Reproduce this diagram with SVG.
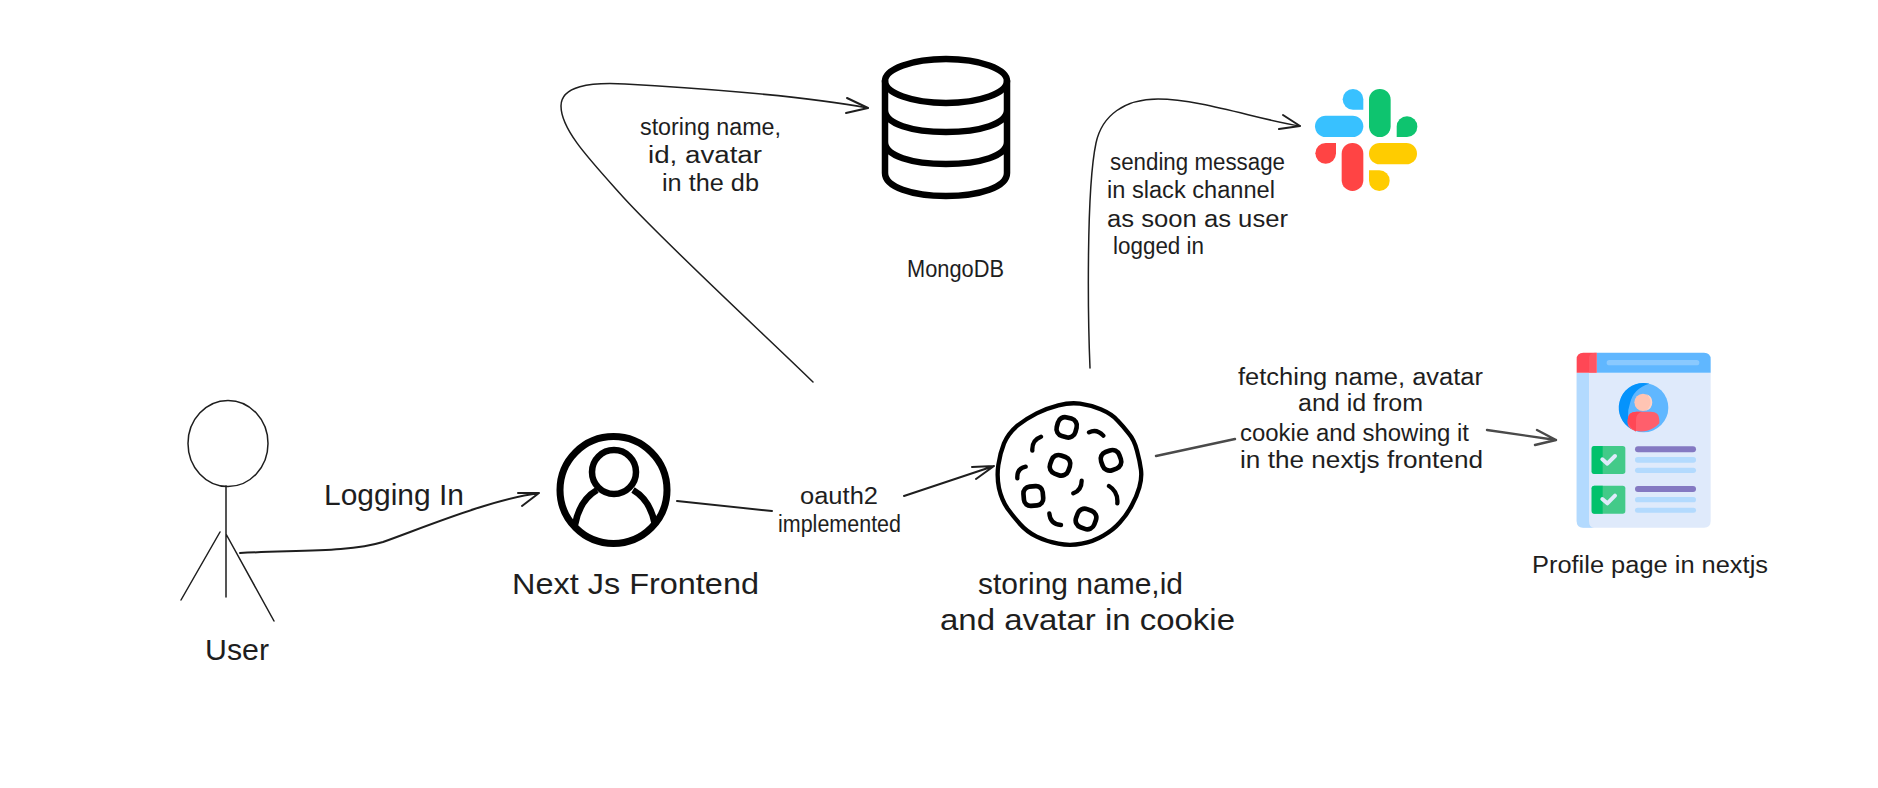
<svg xmlns="http://www.w3.org/2000/svg" width="1878" height="788" viewBox="0 0 1878 788">
<style>
text{font-family:"Liberation Sans Narrow","Liberation Sans",sans-serif;fill:#1e1e1e;font-size:23px}
.big{font-size:29px}
.thin{fill:none;stroke:#1e1e1e;stroke-width:1.5;stroke-linecap:round;stroke-linejoin:round}
.conn{fill:none;stroke:#1e1e1e;stroke-width:2;stroke-linecap:round;stroke-linejoin:round}
.gray{fill:none;stroke:#4a4a4a;stroke-width:2.4;stroke-linecap:round;stroke-linejoin:round}
.icon{fill:none;stroke:#000;stroke-linecap:round;stroke-linejoin:round}
</style>
<rect width="1878" height="788" fill="#fff"/>
<g id="connectors">
<path class="conn" d="M240,553 C300,550 350,552 383,542 C430,525 490,500 539,493 M518,493 L539,493 L522,506"/>
<path class="conn" d="M677,501 L772,511 M904,496 L994,466 M972,467 L994,466 L976,479"/>
<path class="thin" d="M813,382 C768,338 668,246 624,198 C590,160 561,130 561,106 C561,86 590,82 625,84 C680,87 800,95 868,108"/>
<path class="conn" d="M847,98 L868,108 L846,113"/>
<path class="thin" d="M1090,368 C1088,320 1086,190 1096,143 C1102,115 1125,99 1158,99 C1200,99 1260,120 1300,126"/>
<path class="conn" d="M1283,115 L1300,126 L1279,129"/>
<path class="gray" d="M1156,456 L1235,439 M1487,430 L1556,440 M1537,430 L1556,440 L1535,445"/>
</g>
<g id="user">
<ellipse class="thin" cx="228" cy="443.5" rx="40" ry="43"/>
<path class="thin" d="M226,486 V597 M220,532 L181,600 M226,534 L274,621"/>
<text class="big" x="205" y="660" textLength="64" lengthAdjust="spacingAndGlyphs">User</text>
</g>
<g id="logging-label"><text class="big" x="324" y="505" textLength="140" lengthAdjust="spacingAndGlyphs">Logging In</text></g>
<g id="frontend">
<circle class="icon" cx="613.5" cy="490" r="53.5" stroke-width="7"/>
<circle class="icon" cx="614" cy="472" r="22" stroke-width="6.5"/>
<path fill="none" stroke="#000" stroke-width="6.5" d="M575,525 C578,508 585,497 597,490 M633,490 C645,497 652,508 655,525"/>
<text class="big" x="512" y="594" textLength="247" lengthAdjust="spacingAndGlyphs">Next Js Frontend</text>
</g>
<g id="oauth-label">
<text x="800" y="504" textLength="78" lengthAdjust="spacingAndGlyphs">oauth2</text>
<text x="778" y="532" textLength="123" lengthAdjust="spacingAndGlyphs">implemented</text>
</g>
<g id="cookie">
<g transform="translate(980,390) scale(.33333)">
<path class="icon" stroke-width="13" d="M300,41 Q330,45 362,58 Q395,72 412,91 Q430,110 446,130 Q463,150 471,182 Q480,215 483,240 Q486,265 478,292 Q470,320 455,347 Q440,375 420,397 Q400,420 370,437 Q340,455 305,461 Q270,468 235,461 Q200,455 170,440 Q140,425 120,402 Q100,380 82,355 Q65,330 57,295 Q50,260 55,225 Q60,190 72,160 Q85,130 112,107 Q140,85 170,70 Q200,55 235,46 Q270,37 300,41 Z"/>
<rect class="icon" stroke-width="14" x="231" y="83" width="58" height="58" rx="22" transform="rotate(15 260 112)"/>
<rect class="icon" stroke-width="14" x="211" y="197" width="58" height="58" rx="22" transform="rotate(20 240 226)"/>
<rect class="icon" stroke-width="14" x="364" y="182" width="58" height="58" rx="22" transform="rotate(-20 393 211)"/>
<rect class="icon" stroke-width="14" x="131" y="289" width="58" height="58" rx="20" transform="rotate(-5 160 318)"/>
<rect class="icon" stroke-width="14" x="289" y="358" width="58" height="58" rx="22" transform="rotate(20 318 387)"/>
<path class="icon" stroke-width="13" d="M157,182 Q155,150 183,140 M327,127 Q350,115 370,137 M112,265 Q110,235 137,230 M280,310 Q305,300 305,272 M387,288 Q415,305 412,340 M208,370 Q210,402 243,405"/>
</g>
<text class="big" x="978" y="594" textLength="205" lengthAdjust="spacingAndGlyphs">storing name,id</text>
<text class="big" x="940" y="630" textLength="295" lengthAdjust="spacingAndGlyphs">and avatar in cookie</text>
</g>
<g id="mongodb">
<ellipse class="icon" stroke-width="6.5" cx="946" cy="81" rx="61" ry="22"/>
<path class="icon" stroke-width="6.5" d="M885,81 V173 C885,187 912,196 946,196 S1007,187 1007,173 V81 M885,110 C885,124 912,132 946,132 S1007,124 1007,110 M885,142 C885,156 912,164 946,164 S1007,156 1007,142"/>
<text x="907" y="277" textLength="97" lengthAdjust="spacingAndGlyphs">MongoDB</text>
</g>
<g id="db-label">
<text x="640" y="135" textLength="141" lengthAdjust="spacingAndGlyphs">storing name,</text>
<text x="648" y="163" textLength="114" lengthAdjust="spacingAndGlyphs">id, avatar</text>
<text x="662" y="191" textLength="97" lengthAdjust="spacingAndGlyphs">in the db</text>
</g>
<g id="slack" transform="translate(1300,70) scale(.33333)">
<path fill="#38c1ff" d="M190,119 H159 A31,31 0 1 1 190,88 Z"/>
<rect fill="#38c1ff" x="45" y="137" width="145" height="64" rx="32"/>
<rect fill="#0ec46f" x="207" y="57" width="65" height="144" rx="32"/>
<path fill="#0ec46f" d="M290,201 V170 A31,31 0 1 1 321,201 Z"/>
<path fill="#ff4444" d="M108,219 V250 A31,31 0 1 1 77,219 Z"/>
<rect fill="#ff4444" x="125" y="219" width="65" height="144" rx="32"/>
<rect fill="#ffcc00" x="207" y="219" width="144" height="64" rx="32"/>
<path fill="#ffcc00" d="M207,301 H238 A31,31 0 1 1 207,332 Z"/>
</g>
<g id="slack-label">
<text x="1110" y="170" textLength="175" lengthAdjust="spacingAndGlyphs">sending message</text>
<text x="1107" y="198" textLength="168" lengthAdjust="spacingAndGlyphs">in slack channel</text>
<text x="1107" y="227" textLength="181" lengthAdjust="spacingAndGlyphs">as soon as user</text>
<text x="1113" y="254" textLength="91" lengthAdjust="spacingAndGlyphs">logged in</text>
</g>
<g id="fetch-label">
<text x="1238" y="385" textLength="245" lengthAdjust="spacingAndGlyphs">fetching name, avatar</text>
<text x="1298" y="411" textLength="125" lengthAdjust="spacingAndGlyphs">and id from</text>
<text x="1240" y="441" textLength="229" lengthAdjust="spacingAndGlyphs">cookie and showing it</text>
<text x="1240" y="468" textLength="243" lengthAdjust="spacingAndGlyphs">in the nextjs frontend</text>
</g>
<g id="profile">
<g transform="translate(1560,340) scale(.33333)">
<path fill="#dfeafb" d="M50,98 H452 V543 Q452,563 432,563 H70 Q50,563 50,543 Z"/>
<path fill="#b3dafe" d="M50,98 H87 V543 Q87,563 102,563 H70 Q50,563 50,543 Z"/>
<path fill="#60b7ff" d="M110,38 H432 Q452,38 452,58 V98 H110 Z"/>
<path fill="#ff4755" d="M70,38 H110 V98 H50 V58 Q50,38 70,38 Z"/>
<path fill="#ff5f6c" d="M87,98 V50 Q90,40 104,38 H110 V98 Z" opacity=".6"/>
<rect fill="#8ac9fe" x="140" y="60" width="278" height="16" rx="8"/>
<circle fill="#60b7ff" cx="251" cy="203" r="74"/>
<path fill="#0593fc" d="M251,129 A74,74 0 0 0 215,268 A100,100 0 0 1 210,190 Q220,145 268,131 A74,74 0 0 0 251,129 Z"/>
<circle fill="#ffc4b3" cx="249" cy="187" r="26"/>
<path fill="#ffd4c8" d="M258,162 A26,26 0 0 1 258,212 A30,30 0 0 0 258,162 Z"/>
<path fill="#ff5f6c" d="M203,240 Q203,215 230,215 H272 Q298,215 298,240 V250 A74,74 0 0 1 218,270 Q203,262 203,250 Z"/>
<path fill="#ff4755" d="M203,240 Q203,215 230,215 H245 Q228,220 228,240 V275 A74,74 0 0 1 203,250 Z"/>
<rect fill="#43ca89" x="95" y="318" width="101" height="84" rx="8"/>
<path fill="#00c16c" d="M103,318 H128 V402 H103 Q95,402 95,394 V326 Q95,318 103,318 Z"/>
<path fill="none" stroke="#dfeafb" stroke-width="12" stroke-linecap="round" stroke-linejoin="round" d="M127,358 L142,371 L165,348"/>
<rect fill="#43ca89" x="95" y="437" width="101" height="84" rx="8"/>
<path fill="#00c16c" d="M103,437 H128 V521 H103 Q95,521 95,513 V445 Q95,437 103,437 Z"/>
<path fill="none" stroke="#dfeafb" stroke-width="12" stroke-linecap="round" stroke-linejoin="round" d="M127,477 L142,490 L165,467"/>
<rect fill="#8479c2" x="225" y="319" width="183" height="18" rx="9"/>
<rect fill="#b3dafe" x="225" y="351" width="183" height="17" rx="8"/>
<rect fill="#b3dafe" x="225" y="383" width="183" height="16" rx="8"/>
<rect fill="#8479c2" x="225" y="438" width="183" height="18" rx="9"/>
<rect fill="#b3dafe" x="225" y="471" width="183" height="16" rx="8"/>
<rect fill="#b3dafe" x="225" y="503" width="183" height="15" rx="7.5"/>
</g>
<text x="1532" y="573" textLength="236" lengthAdjust="spacingAndGlyphs">Profile page in nextjs</text>
</g>
</svg>
